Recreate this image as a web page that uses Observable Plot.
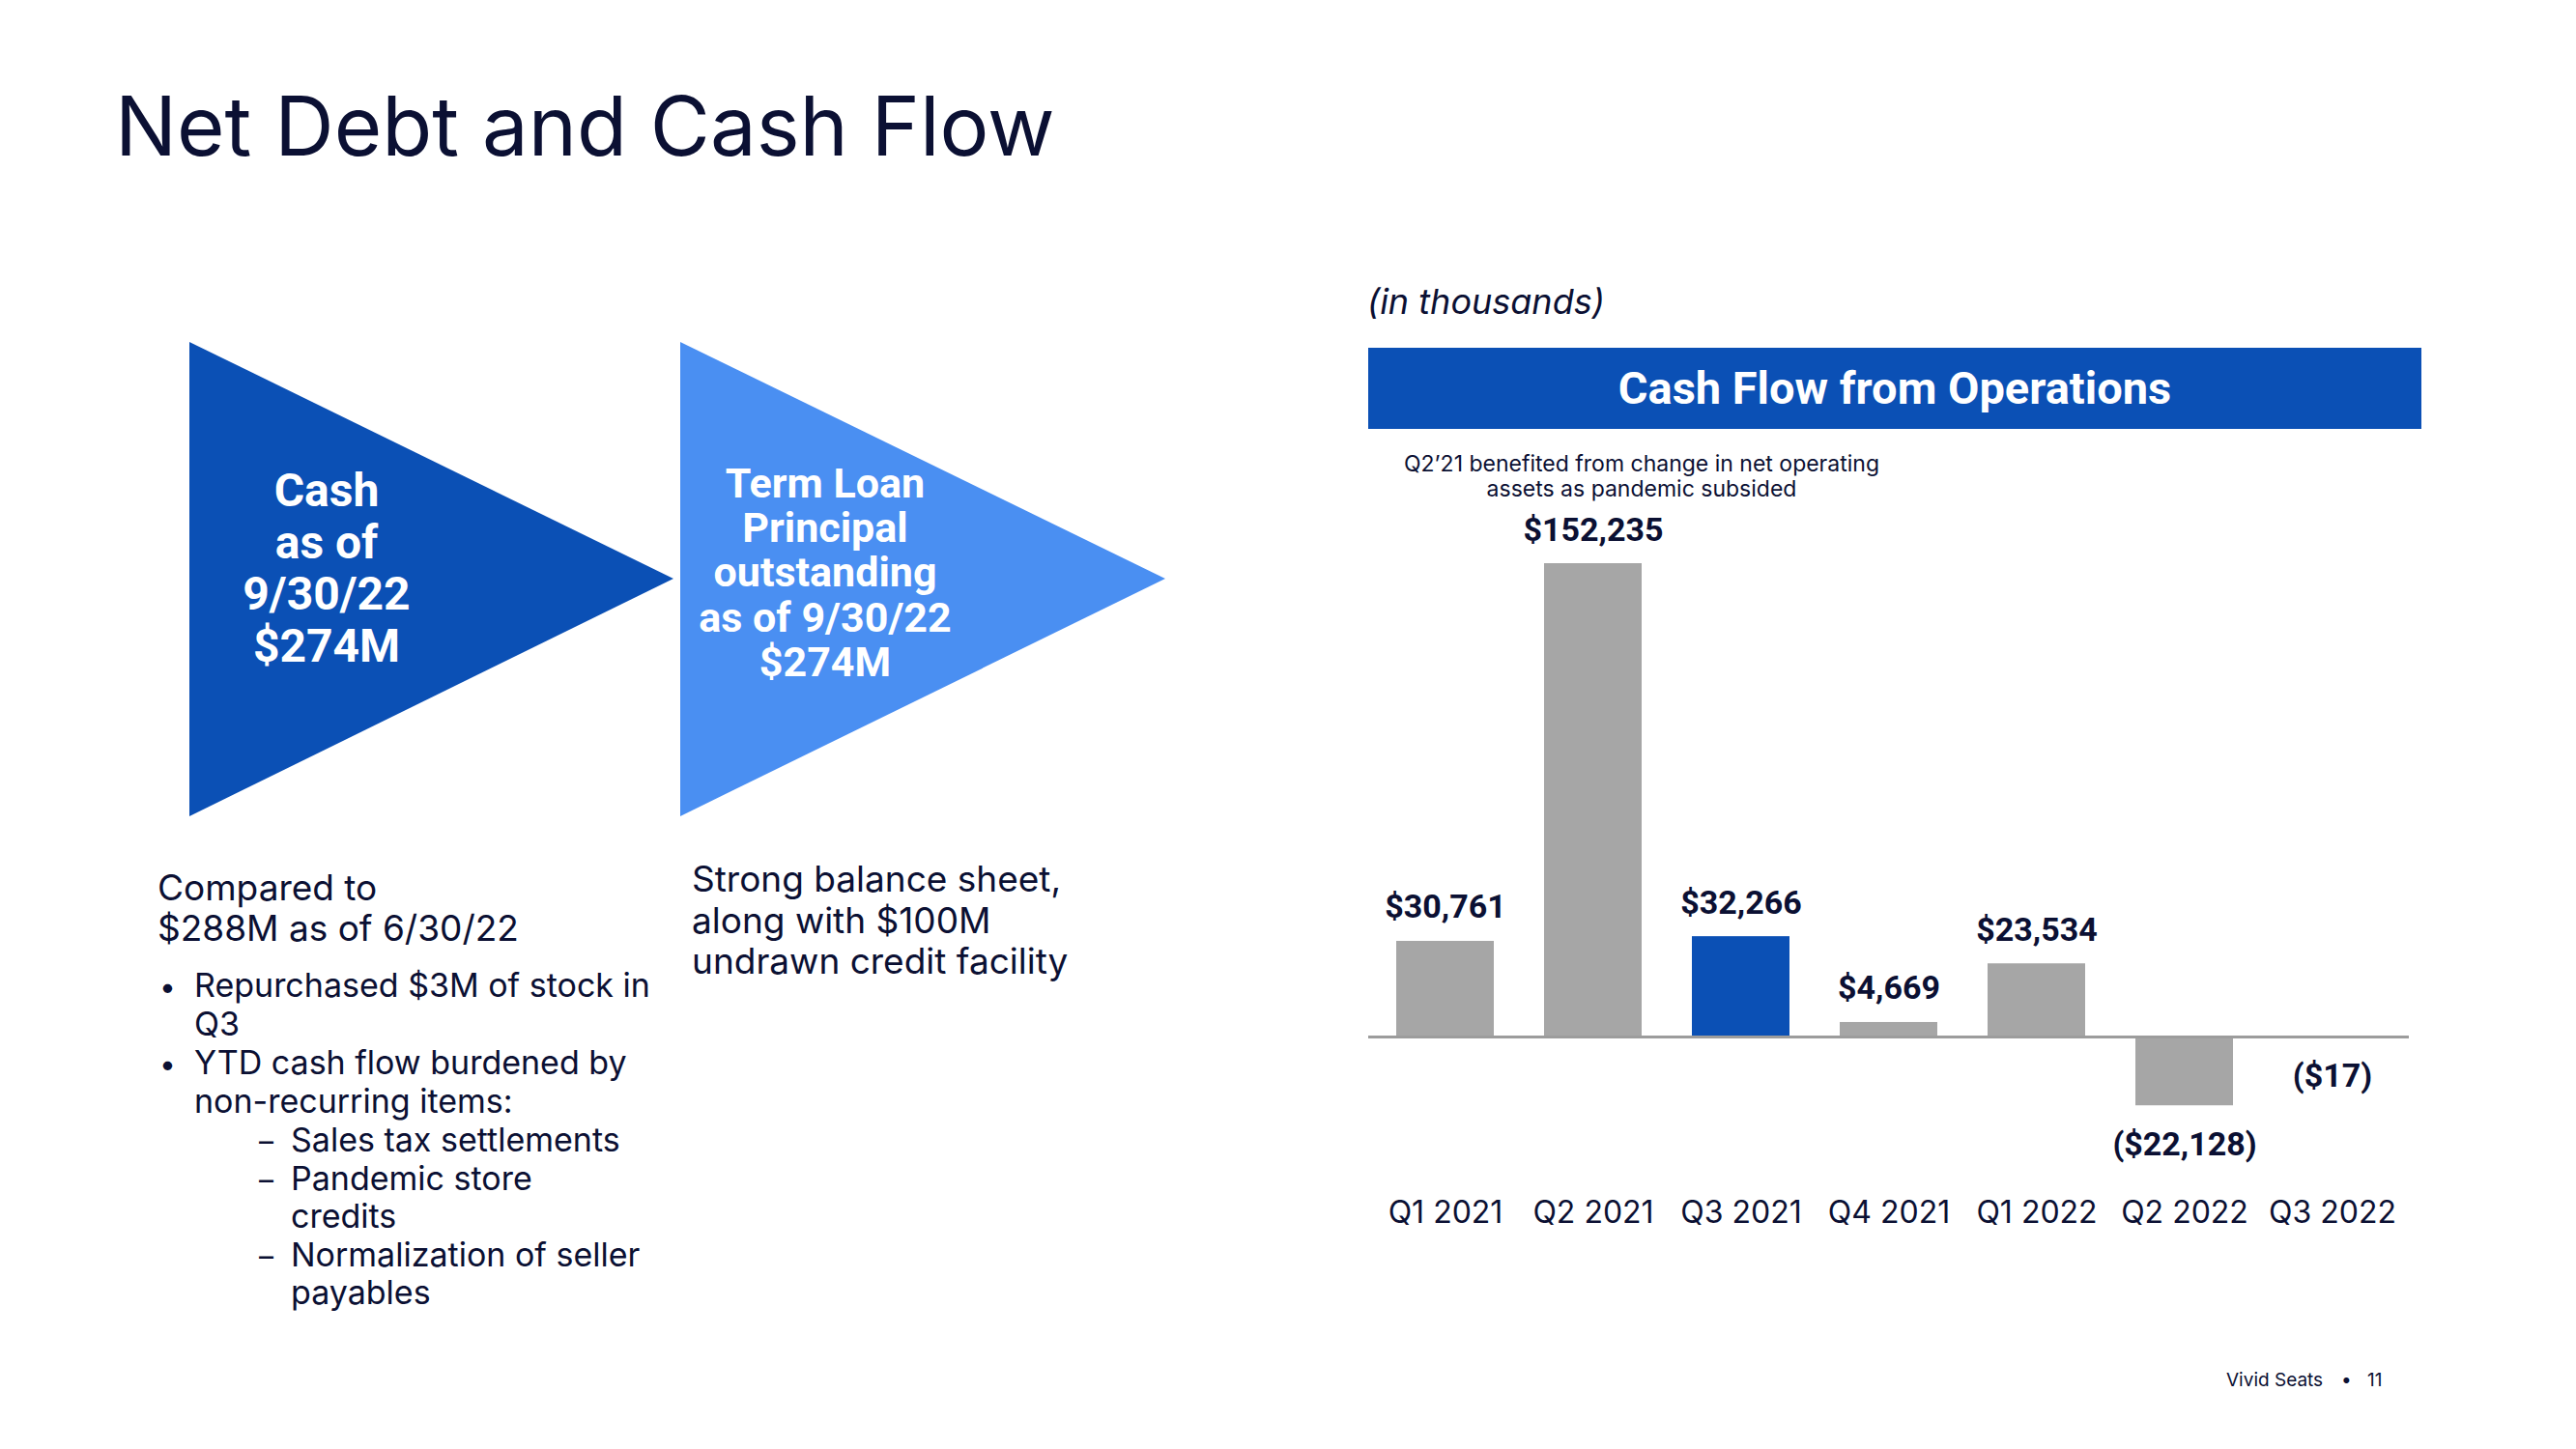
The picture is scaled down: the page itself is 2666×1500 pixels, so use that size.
<!DOCTYPE html>
<html><head><meta charset="utf-8">
<script src="https://cdn.jsdelivr.net/npm/d3@7"></script>
<script src="https://cdn.jsdelivr.net/npm/@observablehq/plot@0.6"></script>
<style>
html,body{margin:0;padding:0;background:#fff;}
#page{position:relative;width:2666px;height:1500px;overflow:hidden;background:#fff;}
#deco{position:absolute;left:0;top:0;}
#chart{position:absolute;left:1416px;top:460px;}
</style></head>
<body><div id="page"><svg id="deco" width="2666" height="1500"></svg><div id="chart"></div></div>
<script>
// ---- data ----
const quarters = ["Q1 2021","Q2 2021","Q3 2021","Q4 2021","Q1 2022","Q2 2022","Q3 2022"];
const cashFlow = [30761, 152235, 32266, 4669, 23534, -22128, -17];
const highlightQuarter = "Q3 2021";
const titleText = "Net Debt and Cash Flow";
const unitNote = "(in thousands)";
const chartHeader = "Cash Flow from Operations";
const annotationLines = ["Q2\u201921 benefited from change in net operating", "assets as pandemic subsided"];
const cashLines = ["Cash", "as of", "9/30/22", "$274M"];
const loanLines = ["Term Loan", "Principal", "outstanding", "as of 9/30/22", "$274M"];
const comparedLines = ["Compared to", "$288M as of 6/30/22"];
const bulletLines = [["\u2022", "Repurchased $3M of stock in"], ["", "Q3"], ["\u2022", "YTD cash flow burdened by"], ["", "non-recurring items:"]];
const subBulletLines = [["\u2013", "Sales tax settlements"], ["\u2013", "Pandemic store"], ["", "credits"], ["\u2013", "Normalization of seller"], ["", "payables"]];
const midLines = ["Strong balance sheet,", "along with $100M", "undrawn credit facility"];
const footerText = ["Vivid Seats", "\u2022", "11"];

// ---- colours ----
const NAVY = "#0B1033", DARK_BLUE = "#0B50B5", LIGHT_BLUE = "#4A8FF2", GRAY = "#A6A6A6", AXIS_GRAY = "#9C9C9C";
const BODY = "Inter, 'Open Sans', sans-serif", BOLD = "Roboto, 'Open Sans', sans-serif";

// ---- decorative layer ----
const deco = d3.select("#deco");
function txt(x, y, s, o = {}) {
  return deco.append("text").attr("x", x).attr("y", y).text(s)
    .attr("font-family", o.family || BODY).attr("font-size", o.size || 38)
    .attr("font-weight", o.weight || 400).attr("fill", o.fill || NAVY)
    .attr("font-style", o.style || "normal").attr("text-anchor", o.anchor || "start");
}
txt(119, 161, titleText, {size: 85, weight: 400});

deco.append("polygon").attr("points", "196,354 196,845 697,599").attr("fill", DARK_BLUE);
deco.append("polygon").attr("points", "704,354 704,845 1206,599").attr("fill", LIGHT_BLUE);
cashLines.forEach((s, i) => txt(338, 524 + i * 53.5, s, {family: BOLD, size: 48, weight: 700, fill: "#fff", anchor: "middle"}));
loanLines.forEach((s, i) => txt(854, 515 + i * 46.2, s, {family: BOLD, size: 43, weight: 700, fill: "#fff", anchor: "middle"}));

comparedLines.forEach((s, i) => txt(163, 932 + i * 42, s, {size: 37}));
bulletLines.forEach(([b, s], i) => { if (b) txt(165, 1032 + i * 40, b, {size: 30}); txt(201, 1032 + i * 40, s, {size: 34}); });
subBulletLines.forEach(([b, s], i) => { if (b) txt(268, 1192 + i * 39.5, b, {size: 30}); txt(301, 1192 + i * 39.5, s, {size: 34}); });
midLines.forEach((s, i) => txt(716, 923 + i * 42.5, s, {size: 37}));

txt(1415, 325, unitNote, {size: 36, style: "italic"});
deco.append("rect").attr("x", 1416).attr("y", 360).attr("width", 1090).attr("height", 84).attr("fill", DARK_BLUE);
txt(1961, 418, chartHeader, {family: BOLD, size: 47, weight: 700, fill: "#fff", anchor: "middle"});
annotationLines.forEach((s, i) => txt(1699, 488 + i * 26, s, {size: 23, anchor: "middle"}));

txt(2304, 1435, footerText[0], {size: 19});
txt(2423, 1435, footerText[1], {size: 19});
txt(2450, 1435, footerText[2], {size: 19});

// ---- chart ----
const data = quarters.map((q, i) => ({q, v: cashFlow[i]}));
const fmt = v => v >= 0 ? "$" + d3.format(",")(v) : "($" + d3.format(",")(-v) + ")";
const chart = Plot.plot({
  width: 1077, height: 840,
  marginLeft: 0, marginRight: 0, marginTop: 0, marginBottom: 70,
  style: {fontFamily: BOLD, fontSize: "32px", color: NAVY, background: "transparent", overflow: "visible"},
  x: {domain: quarters, paddingInner: 0.337, paddingOuter: 0.1685, label: null},
  y: {domain: [0, d3.max(cashFlow)], range: [613, 123], axis: null},
  marks: [
    Plot.barY(data, {x: "q", y: "v", fill: d => d.q === highlightQuarter ? DARK_BLUE : GRAY}),
    Plot.ruleY([0], {stroke: AXIS_GRAY, strokeWidth: 3}),
    Plot.text(data.filter(d => d.v >= 0), {x: "q", y: "v", text: d => fmt(d.v), dy: -24, lineAnchor: "bottom", fontWeight: 700, fontSize: 34, fill: NAVY}),
    Plot.text(data.filter(d => d.v < 0), {x: "q", y: "v", text: d => fmt(d.v), dy: 51, lineAnchor: "bottom", fontWeight: 700, fontSize: 34, fill: NAVY}),
    Plot.axisX({tickSize: 0, tickPadding: 13, fontSize: 32, fontFamily: BODY, label: null})
  ]
});
document.getElementById("chart").appendChild(chart);
</script>
</body></html>
